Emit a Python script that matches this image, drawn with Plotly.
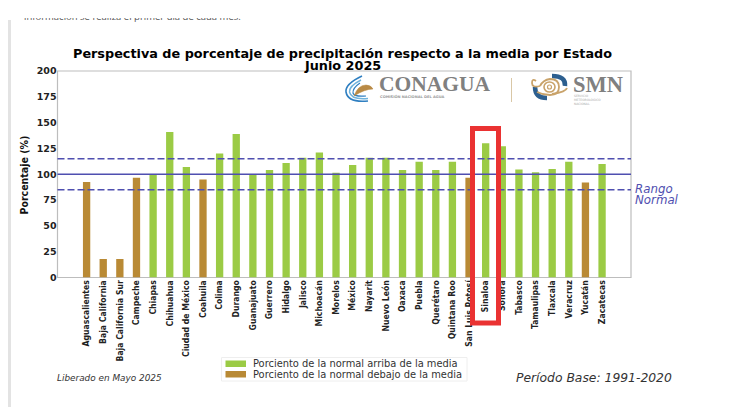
import plotly.graph_objects as go

W, H = 729, 414

estados = ["Aguascalientes", "Baja California", "Baja California Sur", "Campeche", "Chiapas",
           "Chihuahua", "Ciudad de México", "Coahuila", "Colima", "Durango", "Guanajuato",
           "Guerrero", "Hidalgo", "Jalisco", "Michoacán", "Morelos", "México", "Nayarit",
           "Nuevo León", "Oaxaca", "Puebla", "Querétaro", "Quintana Roo", "San Luis Potosí",
           "Sinaloa", "Sonora", "Tabasco", "Tamaulipas", "Tlaxcala", "Veracruz", "Yucatán",
           "Zacatecas"]
porcentaje = [92.5, 18, 18, 96.5, 100, 141, 107, 95, 120, 139, 100, 104, 111, 116, 121, 101.5,
              109, 116, 116, 104, 112, 104, 112, 96.5, 130, 127, 104.5, 102, 105, 112, 92, 110]
ticks_y = [0, 25, 50, 75, 100, 125, 150, 175, 200]
VERDE, CAFE, AZUL, GRIS = "#9BCB45", "#B98A35", "#4F4FB0", "#BDBDBD"
etiqueta_arriba = "Porciento de la normal arriba de la media"
etiqueta_debajo = "Porciento de la normal debajo de la media"


def px(x):
    return x / W


def py(y):
    return 1 - y / H


def caja(x0, y0, x1, y1, color):
    return dict(type="rect", xref="paper", yref="paper", x0=px(x0), x1=px(x1), y0=py(y1), y1=py(y0),
                fillcolor=color, line_width=0, layer="above")


def trazo(puntos, color, ancho, relleno=None):
    """Quadratic curve chain in pixel coordinates: first point, then (ctrl, end) pairs."""
    d = f"M {px(puntos[0][0])} {py(puntos[0][1])}"
    for i in range(1, len(puntos) - 1, 2):
        c, e = puntos[i], puntos[i + 1]
        d += f" Q {px(c[0])} {py(c[1])} {px(e[0])} {py(e[1])}"
    if relleno:
        d += " Z"
    return dict(type="path", xref="paper", yref="paper", path=d, layer="above",
                line=dict(color=color, width=ancho), fillcolor=relleno or "rgba(0,0,0,0)")


def nota(x, y, texto, size, color="#111", anchor="left", family="DejaVu Sans", **kw):
    return dict(xref="paper", yref="paper", x=px(x), y=py(y), text=texto, showarrow=False,
                xanchor=anchor, yanchor="middle", borderpad=0, borderwidth=0,
                font=dict(family=family, size=size, color=color), **kw)


fig = go.Figure()
fig.add_bar(x=list(range(len(estados))), y=porcentaje, width=0.44,
            marker_color=[VERDE if v >= 100 else CAFE for v in porcentaje],
            marker_line_width=0, showlegend=False)

# Line of page text cut by the top edge of the capture
fig.add_scatter(x=[24], y=[18], mode="text", xaxis="x2", yaxis="y2", showlegend=False,
                text=["información se realiza el primer día de cada mes."], textposition="middle right",
                textfont=dict(family="Open Sans", size=9.5, color="#555"))

shapes = [
    dict(type="line", xref="paper", yref="y", x0=px(57.5), x1=px(631), y0=v, y1=v,
         line=dict(color=AZUL, width=w, dash=d), layer="above")
    for v, w, d in [(115, 1.3, "7px,3px"), (100, 1.6, "solid"), (85, 1.3, "7px,3px")]
]
# Page elements around the chart
shapes += [caja(0, 0, W, 18, "white"), caja(8, 20, 11, 407, "#E3E3E3")]
# Highlight frame
shapes += [dict(type="rect", xref="paper", yref="paper", x0=px(472.5), x1=px(498.5), y0=py(323), y1=py(128.5),
                line=dict(color="#EA3232", width=5), fillcolor="rgba(0,0,0,0)", layer="above")]
# Institution logos and separator
shapes += [
    caja(511, 78, 512, 102, "#D9C7A6"),
    trazo([(362, 76), (345, 84), (346, 92), (348, 103), (368, 101)], "#2F7FC1", 1.6),
    trazo([(361, 80), (349, 86), (349.5, 92), (351, 100), (368, 98.5)], "#6FB3DC", 1.4),
    trazo([(360, 83), (352.5, 88), (353, 93), (354, 97), (366, 96)], "#2F7FC1", 1.2),
    trazo([(354, 96), (358, 85), (366, 85), (371, 85), (373, 89), (365, 89), (354, 96)], "#B98A45", 0.5, "#B98A45"),
    trazo([(552, 76), (566, 76), (565, 86)], "#2D5F8F", 4.5),
    trazo([(535, 87), (535, 98), (547, 98)], "#2D5F8F", 4.5),
    trazo([(536, 81), (532, 78), (532, 83), (532, 88), (540, 86)], "#C9A36A", 1.8),
    trazo([(540, 86), (543, 80), (550, 79), (559, 79), (559, 87), (559, 95), (550, 95), (543, 95), (537, 92)], "#C9A36A", 1.8),
    trazo([(552, 94), (566, 92), (567, 88)], "#C9A36A", 1.8),
    dict(type="circle", xref="paper", yref="paper", x0=px(544), x1=px(555), y0=py(92), y1=py(82),
         line=dict(color="#C9A36A", width=1.6), fillcolor="white", layer="above"),
    dict(type="circle", xref="paper", yref="paper", x0=px(547.5), x1=px(551.5), y0=py(89), y1=py(85),
         line=dict(color="#C9A36A", width=1.2), fillcolor="white", layer="above"),
]
# Legend box and swatches
shapes += [
    dict(type="rect", xref="paper", yref="paper", x0=px(221.5), x1=px(467), y0=py(381), y1=py(357.5),
         line=dict(color="#EEEEEE", width=1), fillcolor="white", layer="above"),
    caja(225.5, 360.5, 246, 367, VERDE),
    caja(225.5, 371, 246, 377.5, CAFE),
]
# Plot frame
shapes += [dict(type="rect", xref="paper", yref="paper", x0=px(57.5), x1=px(631), y0=py(277.5), y1=py(71),
                line=dict(color=GRIS, width=1.2), fillcolor="rgba(0,0,0,0)", layer="below")]
fig.update_layout(shapes=shapes)

anotaciones = [
    nota(342, 53.5, "<b>Perspectiva de porcentaje de precipitación respecto a la media por Estado</b>", 12.8, "#000", "center"),
    nota(342, 65, "<b>Junio 2025</b>", 12.8, "#000", "center"),
    nota(23.5, 175, "<b>Porcentaje (%)</b>", 10.5, "#111", "center", family="DejaVu Sans Condensed", textangle=-90),
    nota(634.5, 188.5, "<i>Rango</i>", 11.8, AZUL),
    nota(634.5, 200, "<i>Normal</i>", 11.8, AZUL),
    nota(253, 363.5, etiqueta_arriba, 9.9, "#333"),
    nota(253, 374.5, etiqueta_debajo, 9.9, "#333"),
    nota(57, 378, "<i>Liberado en Mayo 2025</i>", 8.9, "#333"),
    nota(516, 377.5, "<i>Período Base: 1991-2020</i>", 12.35, "#333"),
    nota(379, 84, "<b>CONAGUA</b>", 21.5, "#808080", family="Liberation Serif"),
    nota(379.5, 96, "<b>COMISIÓN NACIONAL DEL AGUA</b>", 3.6, "#9A9A9A"),
    nota(573, 84, "<b>SMN</b>", 22.5, "#808080", family="Liberation Serif"),
    nota(574, 96, "SERVICIO", 3, "#AAAAAA"),
    nota(574, 100, "METEOROLÓGICO", 3, "#AAAAAA"),
    nota(574, 104, "NACIONAL", 3, "#AAAAAA"),
]
fig.update_layout(annotations=anotaciones)

fig.update_layout(
    width=W, height=H, autosize=False, paper_bgcolor="white", plot_bgcolor="rgba(0,0,0,0)",
    margin=dict(l=0, r=0, t=0, b=0, pad=0),
    xaxis=dict(domain=[px(57.5), px(631)], range=[-1.75, 32.74], tickmode="array",
               tickvals=list(range(len(estados))), ticktext=estados, tickangle=-90,
               showgrid=False, zeroline=False, showline=False, ticks="", automargin=False,
               tickfont=dict(family="DejaVu Sans Condensed", size=8.6, color="#222", weight="bold"), anchor="y"),
    yaxis=dict(domain=[py(277.5), py(71)], range=[0, 200], tickvals=ticks_y, showgrid=False, zeroline=False,
               showline=False, ticks="", automargin=False,
               tickfont=dict(family="DejaVu Sans", size=9.5, color="#222", weight="bold"), anchor="x"),
    xaxis2=dict(domain=[0, 1], range=[0, W], visible=False, anchor="y2", fixedrange=True, automargin=False),
    yaxis2=dict(domain=[0, 1], range=[H, 0], visible=False, anchor="x2", fixedrange=True, automargin=False),
)

fig.write_html("out.html")
